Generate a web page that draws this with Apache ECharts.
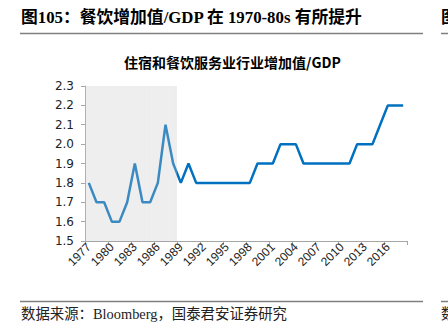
<!DOCTYPE html>
<html>
<head>
<meta charset="utf-8">
<script src="https://cdn.jsdelivr.net/npm/echarts@6/dist/echarts.min.js"></script>
<style>
  html, body { margin: 0; padding: 0; background: #fff; }
  #chart { width: 448px; height: 335px; }
</style>
</head>
<body>
<div id="chart"></div>
<script>
// Years on the category axis
const years = [
  '1977','1978','1979','1980','1981','1982','1983','1984','1985','1986',
  '1987','1988','1989','1990','1991','1992','1993','1994','1995','1996',
  '1997','1998','1999','2000','2001','2002','2003','2004','2005','2006',
  '2007','2008','2009','2010','2011','2012','2013','2014','2015','2016',
  '2017','2018'
];

// Accommodation & catering value added / GDP (%)
const ratio = [
  1.8, 1.7, 1.7, 1.6, 1.6, 1.7, 1.9, 1.7, 1.7, 1.8,
  2.1, 1.9, 1.8, 1.9, 1.8, 1.8, 1.8, 1.8, 1.8, 1.8,
  1.8, 1.8, 1.9, 1.9, 1.9, 2.0, 2.0, 2.0, 1.9, 1.9,
  1.9, 1.9, 1.9, 1.9, 1.9, 2.0, 2.0, 2.0, 2.1, 2.2,
  2.2, 2.2
];

// Highlighted period and value-axis range
const shadeFrom = '1977';
const shadeTo = '1988';
const yMin = 1.5;
const yMax = 2.3;
const yStep = 0.1;

const shadeData = years.map(y => (y >= shadeFrom && y <= shadeTo) ? yMax : null);

const chart = echarts.init(document.getElementById('chart'), null, { renderer: 'svg' });

const serifCJK = '"Liberation Serif", "Noto Sans CJK SC", serif';

chart.setOption({
  animation: false,
  backgroundColor: '#ffffff',
  grid: { left: 85, right: 41, top: 86, bottom: 94 },
  xAxis: {
    type: 'category',
    data: years,
    boundaryGap: true,
    axisLine: { lineStyle: { color: '#a6a6a6', width: 1 } },
    axisTick: { show: true, interval: 2, length: 4, lineStyle: { color: '#a6a6a6' } },
    axisLabel: {
      interval: 2,
      rotate: 45,
      margin: 4,
      fontSize: 12,
      color: '#222',
      fontFamily: '"Liberation Sans", Arial, sans-serif'
    },
    splitLine: { show: false }
  },
  yAxis: {
    type: 'value',
    min: yMin,
    max: yMax,
    interval: yStep,
    axisLine: { show: true, lineStyle: { color: '#a6a6a6', width: 1 } },
    axisTick: { show: true, length: 4, lineStyle: { color: '#a6a6a6' } },
    axisLabel: {
      margin: 11,
      fontSize: 12,
      color: '#222',
      fontFamily: '"DejaVu Sans", sans-serif',
      formatter: v => v.toFixed(1)
    },
    splitLine: { show: false }
  },
  series: [
    {
      name: '住宿和餐饮服务业行业增加值/GDP',
      type: 'line',
      data: ratio,
      symbol: 'none',
      lineStyle: { color: '#0070c0', width: 2.5 },
      z: 2
    },
    {
      name: 'shade',
      type: 'bar',
      data: shadeData,
      barWidth: '100%',
      barGap: '-100%',
      itemStyle: { color: 'rgba(200,200,200,0.3)' },
      silent: true,
      z: 3
    }
  ],
  graphic: [
    {
      type: 'text', left: 21, top: 9,
      style: {
        text: '图105：餐饮增加值/GDP 在 1970-80s 有所提升',
        font: 'bold 16.8px ' + serifCJK, fill: '#000'
      }
    },
    { type: 'line', shape: { x1: 20, y1: 33.5, x2: 423, y2: 33.5 }, style: { stroke: '#7f7f7f', lineWidth: 1.5 } },
    {
      type: 'text', left: 441, top: 9,
      style: { text: '图', font: 'bold 16.8px ' + serifCJK, fill: '#000' }
    },
    { type: 'line', shape: { x1: 441, y1: 33.5, x2: 448, y2: 33.5 }, style: { stroke: '#7f7f7f', lineWidth: 1.5 } },
    {
      type: 'text', x: 232.5, y: 62,
      style: {
        text: '住宿和餐饮服务业行业增加值/GDP',
        font: 'bold 14px "Noto Sans CJK SC", sans-serif', fill: '#000',
        align: 'center', verticalAlign: 'middle'
      }
    },
    { type: 'line', shape: { x1: 20, y1: 301.5, x2: 423, y2: 301.5 }, style: { stroke: '#7f7f7f', lineWidth: 1.5 } },
    { type: 'line', shape: { x1: 441, y1: 301.5, x2: 448, y2: 301.5 }, style: { stroke: '#7f7f7f', lineWidth: 1.5 } },
    {
      type: 'text', left: 21, top: 307,
      style: {
        text: '数据来源：Bloomberg，国泰君安证券研究',
        font: '14.4px ' + serifCJK, fill: '#222'
      }
    },
    {
      type: 'text', left: 441, top: 307,
      style: { text: '数', font: '14.4px ' + serifCJK, fill: '#222' }
    }
  ]
});
</script>
</body>
</html>
